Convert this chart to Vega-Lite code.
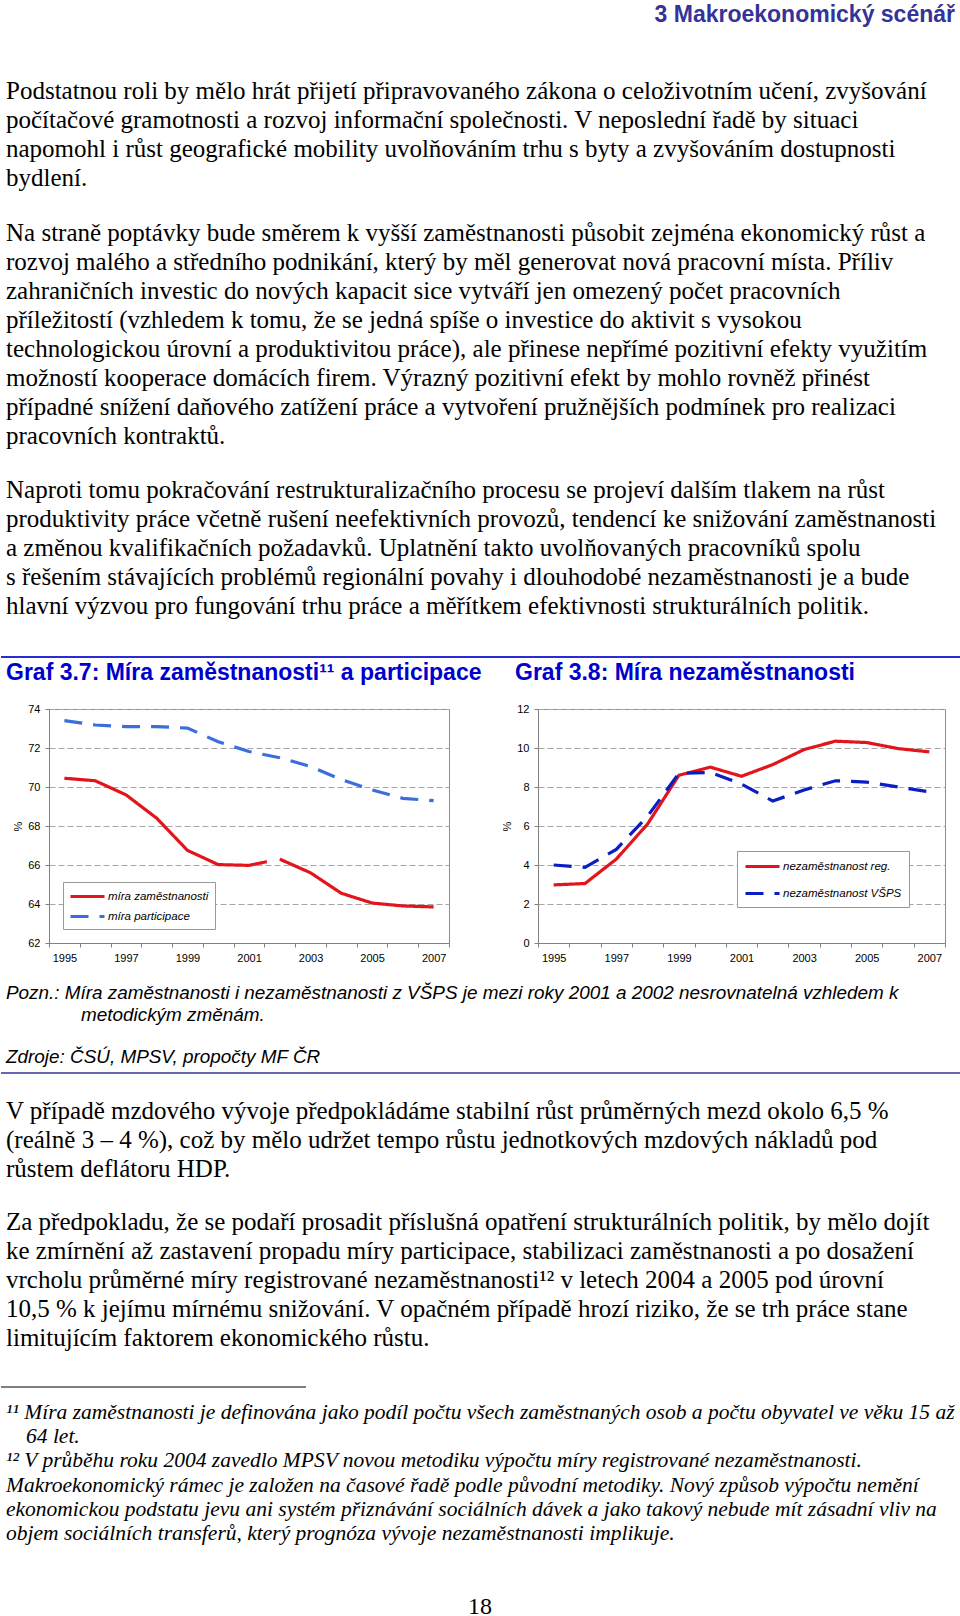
{
  "$schema": "https://vega.github.io/schema/vega-lite/v6.json",
  "padding": 0,
  "autosize": {"type": "pad"},
  "background": "white",
  "spacing": 0,
  "config": {
    "view": {"stroke": null},
    "concat": {"spacing": 0},
    "legend": {
      "title": null,
      "strokeColor": "#999999",
      "fillColor": "white",
      "padding": 6,
      "cornerRadius": 0,
      "symbolType": "M-1,0H3.86",
      "symbolSize": 196,
      "symbolStrokeWidth": 3,
      "labelOffset": 22,
      "labelFont": "Liberation Sans",
      "labelFontStyle": "italic",
      "labelFontSize": 11.5,
      "labelColor": "#000000",
      "rowPadding": 8
    },
    "axis": {
      "labelFont": "Liberation Sans",
      "labelFontSize": 11,
      "labelColor": "#000000",
      "tickColor": "#808080",
      "domainColor": "#808080",
      "tickSize": 4,
      "titleFont": "Liberation Sans",
      "titleFontSize": 11,
      "titleFontWeight": "normal",
      "titleColor": "#000000"
    }
  },
  "vconcat": [
    {
      "width": 960, "height": 76,
      "data": {"values": [{"radek": 0, "text": "3 Makroekonomický scénář"}]},
      "mark": {"type": "text", "align": "right", "baseline": "middle", "dx": -6, "font": "Liberation Sans", "fontWeight": "bold", "fontSize": 23, "color": "#333399"},
      "encoding": {
        "x": {"value": "width"},
        "y": {"field": "radek", "type": "quantitative", "scale": {"domain": [-0.534, 2.087], "nice": false, "zero": false, "reverse": true}, "axis": null},
        "text": {"field": "text"}
      }
    },
    {
      "width": 960, "height": 143,
      "data": {"values": [
        {"radek": 0, "text": "Podstatnou roli by mělo hrát přijetí připravovaného zákona o celoživotním učení, zvyšování"},
        {"radek": 1, "text": "počítačové gramotnosti a rozvoj informační společnosti. V neposlední řadě by situaci"},
        {"radek": 2, "text": "napomohl i růst geografické mobility uvolňováním trhu s byty a zvyšováním dostupnosti"},
        {"radek": 3, "text": "bydlení."}
      ]},
      "mark": {"type": "text", "align": "left", "baseline": "middle", "dx": 5, "font": "Liberation Serif", "fontSize": 25, "color": "#000000"},
      "encoding": {
        "x": {"value": 0},
        "y": {"field": "radek", "type": "quantitative", "scale": {"domain": [-0.5, 4.431], "nice": false, "zero": false, "reverse": true}, "axis": null},
        "text": {"field": "text"}
      }
    },
    {
      "width": 960, "height": 256,
      "data": {"values": [
        {"radek": 0, "text": "Na straně poptávky bude směrem k vyšší zaměstnanosti působit zejména ekonomický růst a"},
        {"radek": 1, "text": "rozvoj malého a středního podnikání, který by měl generovat nová pracovní místa. Příliv"},
        {"radek": 2, "text": "zahraničních investic do nových kapacit sice vytváří jen omezený počet pracovních"},
        {"radek": 3, "text": "příležitostí (vzhledem k tomu, že se jedná spíše o investice do aktivit s vysokou"},
        {"radek": 4, "text": "technologickou úrovní a produktivitou práce), ale přinese nepřímé pozitivní efekty využitím"},
        {"radek": 5, "text": "možností kooperace domácích firem. Výrazný pozitivní efekt by mohlo rovněž přinést"},
        {"radek": 6, "text": "případné snížení daňového zatížení práce a vytvoření pružnějších podmínek pro realizaci"},
        {"radek": 7, "text": "pracovních kontraktů."}
      ]},
      "mark": {"type": "text", "align": "left", "baseline": "middle", "dx": 5, "font": "Liberation Serif", "fontSize": 25, "color": "#000000"},
      "encoding": {
        "x": {"value": 0},
        "y": {"field": "radek", "type": "quantitative", "scale": {"domain": [-0.5, 8.328], "nice": false, "zero": false, "reverse": true}, "axis": null},
        "text": {"field": "text"}
      }
    },
    {
      "width": 960, "height": 181,
      "data": {"values": [
        {"radek": 0, "text": "Naproti tomu pokračování restrukturalizačního procesu se projeví dalším tlakem na růst"},
        {"radek": 1, "text": "produktivity práce včetně rušení neefektivních provozů, tendencí ke snižování zaměstnanosti"},
        {"radek": 2, "text": "a změnou kvalifikačních požadavků. Uplatnění takto uvolňovaných pracovníků spolu"},
        {"radek": 3, "text": "s řešením stávajících problémů regionální povahy i dlouhodobé nezaměstnanosti je a bude"},
        {"radek": 4, "text": "hlavní výzvou pro fungování trhu práce a měřítkem efektivnosti strukturálních politik."}
      ]},
      "mark": {"type": "text", "align": "left", "baseline": "middle", "dx": 5, "font": "Liberation Serif", "fontSize": 25, "color": "#000000"},
      "encoding": {
        "x": {"value": 0},
        "y": {"field": "radek", "type": "quantitative", "scale": {"domain": [-0.5, 5.741], "nice": false, "zero": false, "reverse": true}, "axis": null},
        "text": {"field": "text"}
      }
    },
    {
      "width": 960, "height": 5,
      "data": {"values": [{"prvek": "linka"}]},
      "mark": {"type": "rule", "color": "#2b2bd6", "strokeWidth": 2},
      "encoding": {"y": {"value": 1}}
    },
    {
      "spacing": 0,
      "bounds": "flush",
      "resolve": {
        "scale": {"x": "independent", "y": "independent", "color": "independent", "strokeDash": "independent"},
        "legend": {"color": "independent", "strokeDash": "independent"}
      },
      "hconcat": [
        {
          "width": 48, "height": 234,
          "data": {"values": [{"prvek": "mezera"}]},
          "mark": {"type": "point", "opacity": 0},
          "encoding": {}
        },
        {
          "width": 400, "height": 234,
          "view": {"stroke": "#8c8c8c", "strokeWidth": 1},
          "title": {"text": "Graf 3.7: Míra zaměstnanosti¹¹ a participace", "anchor": "start", "frame": "group", "dx": -43, "offset": -5, "baseline": "bottom", "font": "Liberation Sans", "fontSize": 23, "fontWeight": "bold", "color": "#0000cc"},
          "data": {"values": [
            {"rok": 1995, "hodnota": 70.45, "rada": "míra zaměstnanosti", "usek": "a"},
            {"rok": 1996, "hodnota": 70.32, "rada": "míra zaměstnanosti", "usek": "a"},
            {"rok": 1997, "hodnota": 69.6, "rada": "míra zaměstnanosti", "usek": "a"},
            {"rok": 1998, "hodnota": 68.4, "rada": "míra zaměstnanosti", "usek": "a"},
            {"rok": 1999, "hodnota": 66.75, "rada": "míra zaměstnanosti", "usek": "a"},
            {"rok": 2000, "hodnota": 66.02, "rada": "míra zaměstnanosti", "usek": "a"},
            {"rok": 2001, "hodnota": 65.98, "rada": "míra zaměstnanosti", "usek": "a"},
            {"rok": 2001.58, "hodnota": 66.17, "rada": "míra zaměstnanosti", "usek": "a"},
            {"rok": 2002, "hodnota": 66.3, "rada": "míra zaměstnanosti", "usek": "b"},
            {"rok": 2003, "hodnota": 65.6, "rada": "míra zaměstnanosti", "usek": "b"},
            {"rok": 2004, "hodnota": 64.55, "rada": "míra zaměstnanosti", "usek": "b"},
            {"rok": 2005, "hodnota": 64.05, "rada": "míra zaměstnanosti", "usek": "b"},
            {"rok": 2006, "hodnota": 63.9, "rada": "míra zaměstnanosti", "usek": "b"},
            {"rok": 2007, "hodnota": 63.85, "rada": "míra zaměstnanosti", "usek": "b"},
            {"rok": 1995, "hodnota": 73.4, "rada": "míra participace", "usek": "c"},
            {"rok": 1996, "hodnota": 73.18, "rada": "míra participace", "usek": "c"},
            {"rok": 1997, "hodnota": 73.1, "rada": "míra participace", "usek": "c"},
            {"rok": 1998, "hodnota": 73.1, "rada": "míra participace", "usek": "c"},
            {"rok": 1999, "hodnota": 73.02, "rada": "míra participace", "usek": "c"},
            {"rok": 2000, "hodnota": 72.32, "rada": "míra participace", "usek": "c"},
            {"rok": 2001, "hodnota": 71.82, "rada": "míra participace", "usek": "c"},
            {"rok": 2002, "hodnota": 71.5, "rada": "míra participace", "usek": "c"},
            {"rok": 2003, "hodnota": 71.05, "rada": "míra participace", "usek": "c"},
            {"rok": 2004, "hodnota": 70.38, "rada": "míra participace", "usek": "c"},
            {"rok": 2005, "hodnota": 69.85, "rada": "míra participace", "usek": "c"},
            {"rok": 2006, "hodnota": 69.42, "rada": "míra participace", "usek": "c"},
            {"rok": 2007, "hodnota": 69.3, "rada": "míra participace", "usek": "c"}
          ]},
          "mark": {"type": "line", "strokeWidth": 3.2},
          "encoding": {
            "x": {"field": "rok", "type": "quantitative", "scale": {"domain": [1994.5, 2007.5], "nice": false, "zero": false},
              "axis": {"values": [1994.5, 1995.5, 1996.5, 1997.5, 1998.5, 1999.5, 2000.5, 2001.5, 2002.5, 2003.5, 2004.5, 2005.5, 2006.5, 2007.5],
                "labelExpr": "datum.value % 2 == 0.5 ? format(datum.value + 0.5, 'd') : ''",
                "labelOffset": 15.4, "labelFlush": false, "labelOverlap": false, "grid": false, "title": null, "labelPadding": 5}},
            "y": {"field": "hodnota", "type": "quantitative", "scale": {"domain": [62, 74], "nice": false, "zero": false},
              "axis": {"values": [62, 64, 66, 68, 70, 72, 74], "title": "%", "titlePadding": 4, "grid": true, "gridDash": [6, 3], "gridColor": "#a6a6a6", "labelPadding": 5}},
            "color": {"field": "rada", "type": "nominal", "scale": {"domain": ["míra zaměstnanosti", "míra participace"], "range": ["#e2141c", "#3b6ddc"]},
              "legend": {"orient": "bottom-left", "offset": 14, "padding": 6, "rowPadding": 5}},
            "strokeDash": {"field": "rada", "type": "nominal", "scale": {"domain": ["míra zaměstnanosti", "míra participace"], "range": [[1, 0], [18, 11]]},
              "legend": {"orient": "bottom-left", "offset": 14, "padding": 6, "rowPadding": 5}},
            "detail": {"field": "usek"}
          }
        },
        {
          "width": 89, "height": 234,
          "data": {"values": [{"prvek": "mezera"}]},
          "mark": {"type": "point", "opacity": 0},
          "encoding": {}
        },
        {
          "width": 407, "height": 234,
          "view": {"stroke": "#8c8c8c", "strokeWidth": 1},
          "title": {"text": "Graf 3.8: Míra nezaměstnanosti", "anchor": "start", "frame": "group", "dx": -23, "offset": -5, "baseline": "bottom", "font": "Liberation Sans", "fontSize": 23, "fontWeight": "bold", "color": "#0000cc"},
          "data": {"values": [
            {"rok": 1995, "hodnota": 2.98, "rada": "nezaměstnanost reg."},
            {"rok": 1996, "hodnota": 3.05, "rada": "nezaměstnanost reg."},
            {"rok": 1997, "hodnota": 4.3, "rada": "nezaměstnanost reg."},
            {"rok": 1998, "hodnota": 6.1, "rada": "nezaměstnanost reg."},
            {"rok": 1999, "hodnota": 8.6, "rada": "nezaměstnanost reg."},
            {"rok": 2000, "hodnota": 9.02, "rada": "nezaměstnanost reg."},
            {"rok": 2001, "hodnota": 8.55, "rada": "nezaměstnanost reg."},
            {"rok": 2002, "hodnota": 9.15, "rada": "nezaměstnanost reg."},
            {"rok": 2003, "hodnota": 9.92, "rada": "nezaměstnanost reg."},
            {"rok": 2004, "hodnota": 10.35, "rada": "nezaměstnanost reg."},
            {"rok": 2005, "hodnota": 10.28, "rada": "nezaměstnanost reg."},
            {"rok": 2006, "hodnota": 9.97, "rada": "nezaměstnanost reg."},
            {"rok": 2007, "hodnota": 9.8, "rada": "nezaměstnanost reg."},
            {"rok": 1995, "hodnota": 4.0, "rada": "nezaměstnanost VŠPS"},
            {"rok": 1996, "hodnota": 3.88, "rada": "nezaměstnanost VŠPS"},
            {"rok": 1997, "hodnota": 4.8, "rada": "nezaměstnanost VŠPS"},
            {"rok": 1998, "hodnota": 6.5, "rada": "nezaměstnanost VŠPS"},
            {"rok": 1999, "hodnota": 8.7, "rada": "nezaměstnanost VŠPS"},
            {"rok": 2000, "hodnota": 8.75, "rada": "nezaměstnanost VŠPS"},
            {"rok": 2001, "hodnota": 8.15, "rada": "nezaměstnanost VŠPS"},
            {"rok": 2002, "hodnota": 7.28, "rada": "nezaměstnanost VŠPS"},
            {"rok": 2003, "hodnota": 7.85, "rada": "nezaměstnanost VŠPS"},
            {"rok": 2004, "hodnota": 8.32, "rada": "nezaměstnanost VŠPS"},
            {"rok": 2005, "hodnota": 8.25, "rada": "nezaměstnanost VŠPS"},
            {"rok": 2006, "hodnota": 8.0, "rada": "nezaměstnanost VŠPS"},
            {"rok": 2007, "hodnota": 7.75, "rada": "nezaměstnanost VŠPS"}
          ]},
          "mark": {"type": "line", "strokeWidth": 3.2},
          "encoding": {
            "x": {"field": "rok", "type": "quantitative", "scale": {"domain": [1994.5, 2007.5], "nice": false, "zero": false},
              "axis": {"values": [1994.5, 1995.5, 1996.5, 1997.5, 1998.5, 1999.5, 2000.5, 2001.5, 2002.5, 2003.5, 2004.5, 2005.5, 2006.5, 2007.5],
                "labelExpr": "datum.value % 2 == 0.5 ? format(datum.value + 0.5, 'd') : ''",
                "labelOffset": 15.65, "labelFlush": false, "labelOverlap": false, "grid": false, "title": null, "labelPadding": 5}},
            "y": {"field": "hodnota", "type": "quantitative", "scale": {"domain": [0, 12], "nice": false, "zero": false},
              "axis": {"values": [0, 2, 4, 6, 8, 10, 12], "title": "%", "titlePadding": 4, "grid": true, "gridDash": [6, 3], "gridColor": "#a6a6a6", "labelPadding": 5}},
            "color": {"field": "rada", "type": "nominal", "scale": {"domain": ["nezaměstnanost reg.", "nezaměstnanost VŠPS"], "range": ["#e2141c", "#0a1ec4"]},
              "legend": {"orient": "bottom-right", "offset": 36, "rowPadding": 12, "padding": 7}},
            "strokeDash": {"field": "rada", "type": "nominal", "scale": {"domain": ["nezaměstnanost reg.", "nezaměstnanost VŠPS"], "range": [[1, 0], [18, 11]]},
              "legend": {"orient": "bottom-right", "offset": 36, "rowPadding": 12, "padding": 7}}
          }
        }
      ]
    },
    {
      "width": 960, "height": 109,
      "layer": [
        {
          "data": {"values": [
            {"radek": 0, "text": "Pozn.: Míra zaměstnanosti i nezaměstnanosti z VŠPS je mezi roky 2001 a 2002 nesrovnatelná vzhledem k"},
            {"radek": 3, "text": "Zdroje: ČSÚ, MPSV, propočty MF ČR"}
          ]},
          "mark": {"type": "text", "align": "left", "baseline": "middle", "dx": 5, "font": "Liberation Sans", "fontStyle": "italic", "fontSize": 18.9, "color": "#000000"},
          "encoding": {
            "x": {"value": 0},
            "y": {"field": "radek", "type": "quantitative", "scale": {"domain": [-1.349, 3.721], "nice": false, "zero": false, "reverse": true}, "axis": null},
            "text": {"field": "text"}
          }
        },
        {
          "data": {"values": [
            {"radek": 1, "text": "metodickým změnám."}
          ]},
          "mark": {"type": "text", "align": "left", "baseline": "middle", "dx": 80, "font": "Liberation Sans", "fontStyle": "italic", "fontSize": 18.9, "color": "#000000"},
          "encoding": {
            "x": {"value": 0},
            "y": {"field": "radek", "type": "quantitative", "scale": {"domain": [-1.349, 3.721], "nice": false, "zero": false, "reverse": true}, "axis": null},
            "text": {"field": "text"}
          }
        },
        {
          "data": {"values": [{"prvek": "linka"}]},
          "mark": {"type": "rule", "color": "#333399", "strokeWidth": 1.5},
          "encoding": {"y": {"value": "height"}}
        }
      ]
    },
    {
      "width": 960, "height": 134,
      "data": {"values": [
        {"radek": 0, "text": "V případě mzdového vývoje předpokládáme stabilní růst průměrných mezd okolo 6,5 %"},
        {"radek": 1, "text": "(reálně 3 – 4 %), což by mělo udržet tempo růstu jednotkových mzdových nákladů pod"},
        {"radek": 2, "text": "růstem deflátoru HDP."}
      ]},
      "mark": {"type": "text", "align": "left", "baseline": "middle", "dx": 5, "font": "Liberation Serif", "fontSize": 25, "color": "#000000"},
      "encoding": {
        "x": {"value": 0},
        "y": {"field": "radek", "type": "quantitative", "scale": {"domain": [-1.259, 3.362], "nice": false, "zero": false, "reverse": true}, "axis": null},
        "text": {"field": "text"}
      }
    },
    {
      "width": 960, "height": 178,
      "data": {"values": [
        {"radek": 0, "text": "Za předpokladu, že se podaří prosadit příslušná opatření strukturálních politik, by mělo dojít"},
        {"radek": 1, "text": "ke zmírnění až zastavení propadu míry participace, stabilizaci zaměstnanosti a po dosažení"},
        {"radek": 2, "text": "vrcholu průměrné míry registrované nezaměstnanosti¹² v letech 2004 a 2005 pod úrovní"},
        {"radek": 3, "text": "10,5 % k jejímu mírnému snižování. V opačném případě hrozí riziko, že se trh práce stane"},
        {"radek": 4, "text": "limitujícím faktorem ekonomického růstu."}
      ]},
      "mark": {"type": "text", "align": "left", "baseline": "middle", "dx": 5, "font": "Liberation Serif", "fontSize": 25, "color": "#000000"},
      "encoding": {
        "x": {"value": 0},
        "y": {"field": "radek", "type": "quantitative", "scale": {"domain": [-0.5, 5.638], "nice": false, "zero": false, "reverse": true}, "axis": null},
        "text": {"field": "text"}
      }
    },
    {
      "width": 305, "height": 14,
      "data": {"values": [{"prvek": "linka"}]},
      "mark": {"type": "rule", "color": "#000000", "strokeWidth": 1.2},
      "encoding": {"y": {"value": 1}}
    },
    {
      "width": 960, "height": 162,
      "layer": [
        {
          "data": {"values": [
            {"radek": 0, "text": "¹¹ Míra zaměstnanosti je definována jako podíl počtu všech zaměstnaných osob a počtu obyvatel ve věku 15 až"},
            {"radek": 2, "text": "¹²  V průběhu roku 2004 zavedlo MPSV novou metodiku výpočtu míry registrované nezaměstnanosti."},
            {"radek": 3, "text": "Makroekonomický rámec je založen na časové řadě podle původní metodiky. Nový způsob výpočtu nemění"},
            {"radek": 4, "text": "ekonomickou podstatu jevu ani systém přiznávání sociálních dávek a jako takový nebude mít zásadní vliv na"},
            {"radek": 5, "text": "objem sociálních transferů, který prognóza vývoje nezaměstnanosti implikuje."}
          ]},
          "mark": {"type": "text", "align": "left", "baseline": "middle", "dx": 5, "font": "Liberation Serif", "fontStyle": "italic", "fontSize": 21.5, "color": "#000000"},
          "encoding": {
            "x": {"value": 0},
            "y": {"field": "radek", "type": "quantitative", "scale": {"domain": [-0.537, 6.157], "nice": false, "zero": false, "reverse": true}, "axis": null},
            "text": {"field": "text"}
          }
        },
        {
          "data": {"values": [
            {"radek": 1, "text": "64 let."}
          ]},
          "mark": {"type": "text", "align": "left", "baseline": "middle", "dx": 25, "font": "Liberation Serif", "fontStyle": "italic", "fontSize": 21.5, "color": "#000000"},
          "encoding": {
            "x": {"value": 0},
            "y": {"field": "radek", "type": "quantitative", "scale": {"domain": [-0.537, 6.157], "nice": false, "zero": false, "reverse": true}, "axis": null},
            "text": {"field": "text"}
          }
        }
      ]
    },
    {
      "width": 479, "height": 56,
      "data": {"values": [{"radek": 0, "text": "18"}]},
      "mark": {"type": "text", "align": "center", "baseline": "middle", "font": "Liberation Serif", "fontSize": 24, "color": "#000000"},
      "encoding": {
        "x": {"value": "width"},
        "y": {"field": "radek", "type": "quantitative", "scale": {"domain": [-1.552, 0.379], "nice": false, "zero": false, "reverse": true}, "axis": null},
        "text": {"field": "text"}
      }
    }
  ]
}
